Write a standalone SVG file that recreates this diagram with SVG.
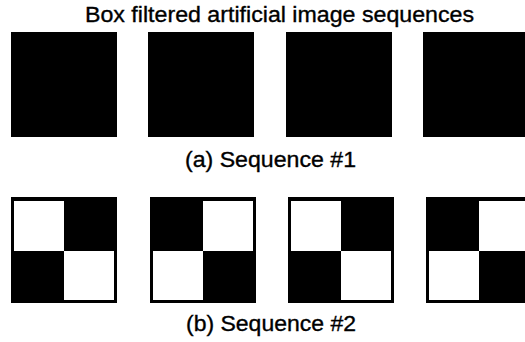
<svg xmlns="http://www.w3.org/2000/svg" width="525" height="342" viewBox="0 0 525 342">
<style>
text{font-family:"Liberation Sans",Arial,Helvetica,sans-serif;font-size:22px;fill:#000;stroke:#000;stroke-width:0.35}
.blk{fill:#000}
.wht{fill:#fff}
</style>
<defs>
<g id="solid"><rect class="blk" x="0" y="0" width="106" height="105"/></g>
<g id="patA"><rect class="blk" x="0" y="0" width="106" height="106"/><rect class="wht" x="3" y="4" width="50" height="50"/><rect class="wht" x="53" y="54" width="50" height="49"/></g>
<g id="patB"><rect class="blk" x="0" y="0" width="106" height="106"/><rect class="wht" x="53" y="4" width="50" height="50"/><rect class="wht" x="3" y="54" width="50" height="49"/></g>
</defs>
<rect width="525" height="342" fill="#fff"/>
<g id="title"><text x="85" y="21.5" textLength="389" lengthAdjust="spacingAndGlyphs">Box filtered artificial image sequences</text></g>
<g id="seq1">
<g id="s1f1"><use href="#solid" x="11" y="32"/></g>
<g id="s1f2"><use href="#solid" x="148" y="32"/></g>
<g id="s1f3"><use href="#solid" x="286" y="32"/></g>
<g id="s1f4"><use href="#solid" x="423" y="32"/></g>
<g id="label-a"><text x="185" y="166.5" textLength="171" lengthAdjust="spacingAndGlyphs">(a) Sequence #1</text></g>
</g>
<g id="seq2">
<g id="s2f1"><use href="#patA" x="11" y="197"/></g>
<g id="s2f2"><use href="#patB" x="150" y="197"/></g>
<g id="s2f3"><use href="#patA" x="288" y="197"/></g>
<g id="s2f4"><use href="#patB" x="426" y="197"/></g>
<g id="label-b"><text x="186" y="331" textLength="170" lengthAdjust="spacingAndGlyphs">(b) Sequence #2</text></g>
</g>
<g id="connectors"/>
</svg>
